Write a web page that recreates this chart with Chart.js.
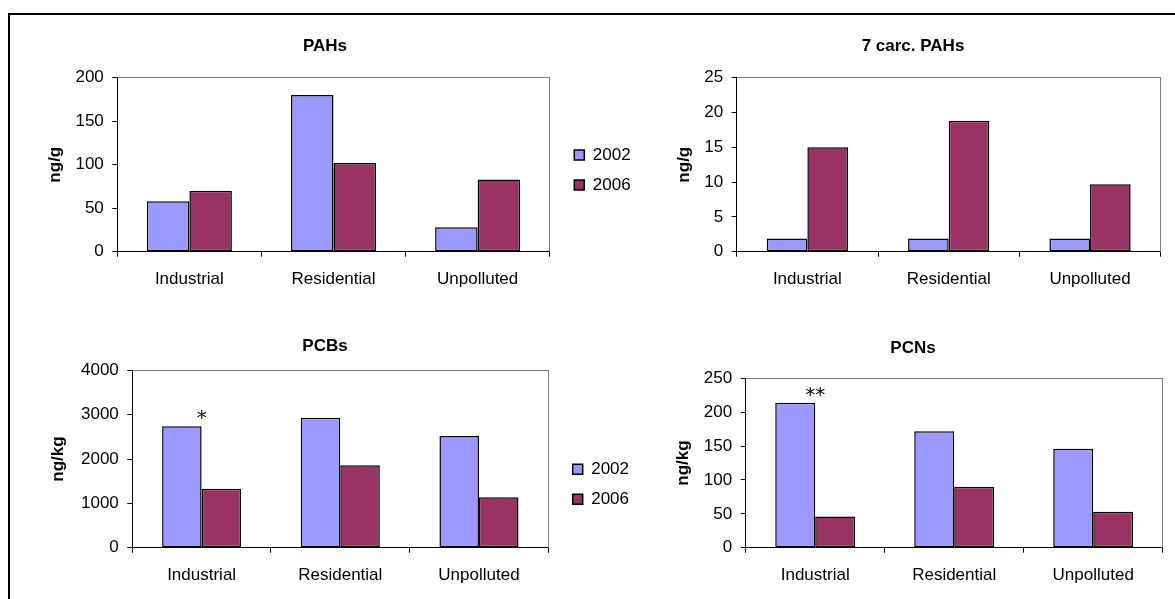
<!DOCTYPE html>
<html><head><meta charset="utf-8">
<script src="https://cdn.jsdelivr.net/npm/chart.js@4.4.0/dist/chart.umd.min.js"></script>
<style>
html,body{margin:0;padding:0;background:#fff;width:1175px;height:599px;overflow:hidden;position:relative;}
#frame{position:absolute;left:8px;top:13px;width:1300px;height:700px;border-top:2px solid #000;border-left:2px solid #000;}
.box{position:absolute;}
canvas{display:block;}
</style></head><body>
<div id="frame"></div>
<div class="box" style="left:10px;top:20px"><canvas id="c1" width="630" height="275"></canvas></div>
<div class="box" style="left:651px;top:20px"><canvas id="c2" width="524" height="275"></canvas></div>
<div class="box" style="left:10px;top:315px"><canvas id="c3" width="630" height="284"></canvas></div>
<div class="box" style="left:651px;top:315px"><canvas id="c4" width="524" height="284"></canvas></div>
<script>
// ---- data ----
const categories = ['Industrial', 'Residential', 'Unpolluted'];
const seriesNames = ['2002', '2006'];

const pahTitle = 'PAHs';
const pah2002 = [58, 180, 28];
const pah2006 = [70, 102, 83];
const pahTicks = [0, 50, 100, 150, 200];

const carcTitle = '7 carc. PAHs';
const carc2002 = [1.9, 1.9, 1.9];
const carc2006 = [15, 18.8, 9.7];
const carcTicks = [0, 5, 10, 15, 20, 25];

const pcbTitle = 'PCBs';
const pcb2002 = [2740, 2930, 2520];
const pcb2006 = [1330, 1860, 1140];
const pcbTicks = [0, 1000, 2000, 3000, 4000];
const pcbMarks = ['*', '', ''];

const pcnTitle = 'PCNs';
const pcn2002 = [214, 172, 146];
const pcn2006 = [46, 90, 53];
const pcnTicks = [0, 50, 100, 150, 200, 250];
const pcnMarks = ['**', '', ''];

const unitG = 'ng/g';
const unitKg = 'ng/kg';

// ---- styling ----
const COL2002 = '#9999FF';
const COL2006 = '#993366';
Chart.defaults.font.family = '"Liberation Sans", Arial, sans-serif';
Chart.defaults.font.size = 17;
Chart.defaults.color = '#000';

function legendPlacer(pos) {
  return {
    id: 'legendPlacer',
    afterLayout(chart) {
      if (!pos) return;
      const lg = chart.legend;
      if (!lg) return;
      const w = lg.width, h = Math.max(lg.height, 120);
      lg.left = pos.left; lg.right = pos.left + w;
      lg.top = pos.top; lg.bottom = pos.top + h;
    }
  };
}

function markPlugin(marks) {
  return {
    id: 'barMarks',
    afterDatasetsDraw(chart) {
      if (!marks) return;
      const ctx = chart.ctx;
      const meta = chart.getDatasetMeta(0);
      ctx.save();
      ctx.font = '20px "DejaVu Sans"';
      ctx.fillStyle = '#000';
      ctx.textAlign = 'center';
      ctx.textBaseline = 'alphabetic';
      marks.forEach((m, i) => {
        if (!m) return;
        const bar = meta.data[i];
        const x = chart.scales.x.getPixelForValue(i);
        ctx.fillText(m, x, bar.y - 2);
      });
      ctx.restore();
    }
  };
}

function makeChart(id, g) {
  return new Chart(document.getElementById(id), {
    type: 'bar',
    data: {
      labels: categories,
      datasets: [
        {label: seriesNames[0], data: g.a, backgroundColor: COL2002, borderColor: '#000', borderWidth: 1.5, borderSkipped: false},
        {label: seriesNames[1], data: g.b, backgroundColor: COL2006, borderColor: '#000', borderWidth: 1.5, borderSkipped: false}
      ]
    },
    options: {
      responsive: false, animation: false, devicePixelRatio: 1,
      layout: {padding: 0},
      datasets: {bar: {categoryPercentage: g.cat, barPercentage: 1}},
      plugins: {
        title: {display: true, text: g.title, color: '#000',
                font: {size: 17, weight: 'bold'}, padding: {top: g.tpt, bottom: g.tpb}},
        legend: {display: !!g.legend, position: 'chartArea', align: 'start',
                 labels: {boxWidth: 10, boxHeight: 10, padding: 13, color: '#000', font: {size: 17}}},
        tooltip: {enabled: false}
      },
      scales: {
        x: {type: 'category', position: 'bottom',
            grid: {display: true, drawOnChartArea: false, tickLength: 5, color: '#000', offset: true},
            border: {display: true, color: '#000', width: 1},
            ticks: {padding: 12, autoSkip: false, maxRotation: 0, minRotation: 0, color: '#000', font: {size: 17}},
            afterFit(s) { s.height = g.xh; }},
        x2: {type: 'category', position: 'top',
             grid: {display: false}, ticks: {display: false},
             border: {display: true, color: '#808080', width: 1},
             afterFit(s) { s.height = 0; }},
        y: {type: 'linear', position: 'left',
            min: g.ticks[0], max: g.ticks[g.ticks.length - 1],
            ticks: {stepSize: g.ticks[1] - g.ticks[0], padding: 8.5, color: '#000', font: {size: 17},
                    callback: (v) => String(v)},
            grid: {display: true, drawOnChartArea: false, tickLength: 5, color: '#000'},
            border: {display: true, color: '#000', width: 1},
            title: {display: true, text: g.unit, color: '#000', font: {size: 17, weight: 'bold'},
                    padding: {top: g.ytp, bottom: 0}},
            afterFit(s) { s.width = g.yw; }},
        y2: {type: 'linear', position: 'right',
             grid: {display: false}, ticks: {display: false},
             border: {display: true, color: '#808080', width: 1},
             afterFit(s) { s.width = g.y2w; }}
      }
    },
    plugins: [legendPlacer(g.legend), markPlugin(g.marks)]
  });
}

makeChart('c1', {title: pahTitle, a: pah2002, b: pah2006, ticks: pahTicks, unit: unitG,
  yw: 107.3, y2w: 90.3, xh: 43.3, tpt: 16, tpb: 21.3, ytp: 34.8, cat: 0.59,
  legend: {left: 551.3, top: 113.5}});
makeChart('c2', {title: carcTitle, a: carc2002, b: carc2006, ticks: carcTicks, unit: unitG,
  yw: 85.7, y2w: 14.3, xh: 43.3, tpt: 16, tpb: 21.3, ytp: 22.8, cat: 0.575});
makeChart('c3', {title: pcbTitle, a: pcb2002, b: pcb2006, ticks: pcbTicks, unit: unitKg,
  yw: 122.3, y2w: 91.7, xh: 51.3, tpt: 21.5, tpb: 13.4, ytp: 38.1, cat: 0.57,
  legend: {left: 549.7, top: 132.8}, marks: pcbMarks});
makeChart('c4', {title: pcnTitle, a: pcn2002, b: pcn2006, ticks: pcnTicks, unit: unitKg,
  yw: 94.7, y2w: 12.3, xh: 51.3, tpt: 23.1, tpb: 19.8, ytp: 22.1, cat: 0.575,
  marks: pcnMarks});
</script>
</body></html>
